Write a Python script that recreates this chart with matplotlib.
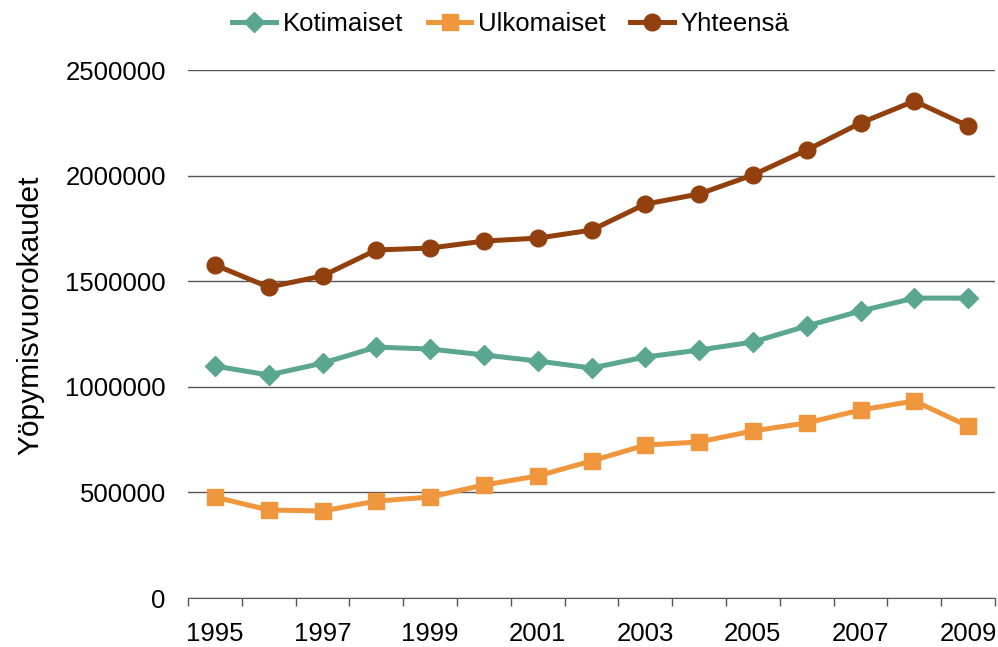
import matplotlib.pyplot as plt
import numpy as np

plt.rcParams['font.family'] = ['Liberation Sans', 'DejaVu Sans']

years = list(range(1995, 2010))
kotimaiset = [1098000, 1056000, 1112000, 1188000, 1179000, 1151000, 1122000, 1089000,
              1141000, 1174000, 1212000, 1288000, 1359000, 1420000, 1420000]
ulkomaiset = [478000, 417000, 412000, 459000, 478000, 535000, 578000, 649000,
              724000, 739000, 791000, 829000, 890000, 933000, 814000]
yhteensa = [1577000, 1472000, 1525000, 1648000, 1657000, 1690000, 1704000, 1742000,
            1865000, 1913000, 2003000, 2121000, 2249000, 2353000, 2235000]
yticks = [0, 500000, 1000000, 1500000, 2000000, 2500000]

fig = plt.figure(figsize=(9.98, 6.47), dpi=100)
ax = fig.add_axes([0.1884, 0.0757, 0.8086, 0.8161])

x = np.arange(len(years))
ax.plot(x, kotimaiset, color='#5ba68f', lw=3.6, marker='D', ms=10.5, label='Kotimaiset')
ax.plot(x, ulkomaiset, color='#f0963c', lw=3.6, marker='s', ms=11.5, label='Ulkomaiset')
ax.plot(x, yhteensa, color='#93400f', lw=3.6, marker='o', ms=12, label='Yhteensä')

ax.set_xlim(-0.5, len(years) - 0.5)
ax.set_ylim(0, 2500000)
ax.set_yticks(yticks)
ax.set_yticklabels([str(v) for v in yticks], fontsize=18.5)
ax.yaxis.grid(True, color='#555555', lw=1)
ax.set_axisbelow(True)
ax.tick_params(axis='y', length=0, pad=16)

ax.set_xticks(x[::2])
ax.set_xticklabels([str(y) for y in years[::2]], fontsize=18.5)
ax.set_xticks(np.arange(-0.5, len(years), 1), minor=True)
ax.tick_params(axis='x', which='major', length=0, pad=17)
ax.tick_params(axis='x', which='minor', length=6, width=1, color='#555555', direction='out')

for s in ['top', 'right', 'left']:
    ax.spines[s].set_visible(False)
ax.spines['bottom'].set_color('#555555')

ax.set_ylabel('Yöpymisvuorokaudet', fontsize=21.5)
ax.yaxis.set_label_coords(-0.178, 0.536)

fig.legend(loc='center', bbox_to_anchor=(0.512, 0.963), ncol=3, frameon=False,
           fontsize=18.5, handlelength=1.71, columnspacing=0.93, handletextpad=0.27)

fig.savefig('out.png', dpi=100)
